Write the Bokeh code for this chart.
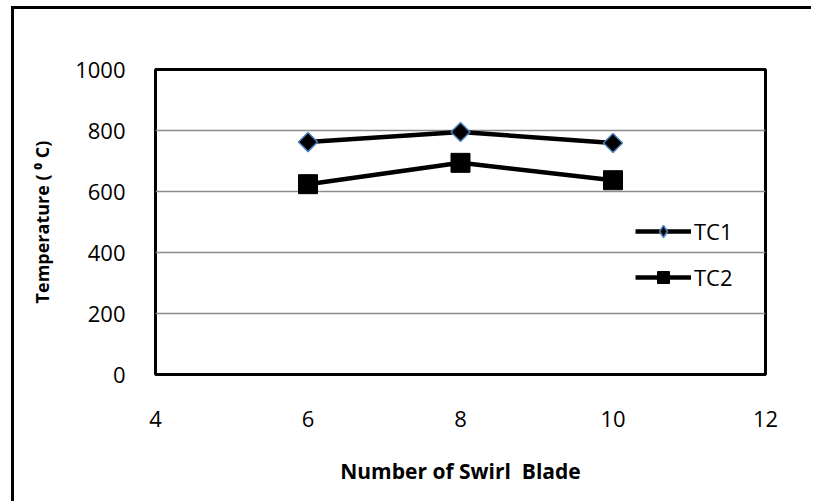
import numpy as np
from bokeh.plotting import figure
from bokeh.models import Range1d, FixedTicker, Legend, LegendItem
from bokeh.embed import file_html
from bokeh.resources import INLINE

# ---- data ----
blades = [6, 8, 10]
tc1 = [762, 795, 759]
tc2 = [624, 694, 637]
x_ticks = [4, 6, 8, 10, 12]
y_ticks = [0, 200, 400, 600, 800, 1000]

FONT = "Open Sans"

p = figure(width=800, height=495, output_backend="svg", toolbar_location=None,
           x_range=Range1d(4, 12), y_range=Range1d(0, 1000),
           min_border_left=141, min_border_right=49,
           min_border_top=60, min_border_bottom=130)
p.styles = {"box-shadow": "-3px -3px 0px 0px black",
            "margin-left": "14px", "margin-top": "9px"}

p.outline_line_color = "black"
p.outline_line_width = 3

p.xaxis.ticker = FixedTicker(ticks=x_ticks)
p.yaxis.ticker = FixedTicker(ticks=y_ticks)
for ax in (p.xaxis[0], p.yaxis[0]):
    ax.axis_line_color = None
    ax.major_tick_line_color = None
    ax.minor_tick_line_color = None
    ax.major_label_text_font = FONT
    ax.major_label_text_font_size = "22px"
    ax.major_label_text_color = "black"
    ax.axis_label_text_font = FONT
    ax.axis_label_text_font_style = "bold"
    ax.axis_label_text_color = "black"

p.xaxis.major_label_standoff = 30
p.yaxis.major_label_standoff = 24
p.xaxis.axis_label = "Number of Swirl\u00a0 Blade"
p.xaxis.axis_label_text_font_size = "21px"
p.xaxis.axis_label_standoff = 27
p.yaxis.axis_label = "Temperature ( \u2070 C)"
p.yaxis.axis_label_text_font_size = "18px"
p.yaxis.axis_label_standoff = 18

p.xgrid.grid_line_color = None
p.ygrid.grid_line_color = "#8c8c8c"
p.ygrid.grid_line_width = 1.5

l1 = p.line(blades, tc1, line_color="black", line_width=4.5)
s1 = p.scatter(blades, tc1, marker="square", angle=np.pi / 4, size=13.5,
               fill_color="black", line_color="#4f81bd", line_width=1.5)
l2 = p.line(blades, tc2, line_color="black", line_width=4.5)
s2 = p.scatter(blades, tc2, marker="square", size=19,
               fill_color="black", line_color="black", line_width=1)

# legend-only marker for TC1 (diamond shape in the key)
k1 = p.scatter([np.nan], [np.nan], marker="diamond", size=10,
               fill_color="black", line_color="#4f81bd", line_width=1.5)

legend = Legend(items=[LegendItem(label="TC1", renderers=[l1, k1]),
                       LegendItem(label="TC2", renderers=[l2, s2])],
                location=(480, 82), padding=0, margin=0, spacing=16,
                glyph_width=56, glyph_height=30, label_height=30,
                label_standoff=3, border_line_color=None,
                background_fill_alpha=0,
                label_text_font=FONT, label_text_font_size="22px",
                label_text_color="black")
p.add_layout(legend, "center")

open("out.html", "w").write(file_html(p, INLINE))
